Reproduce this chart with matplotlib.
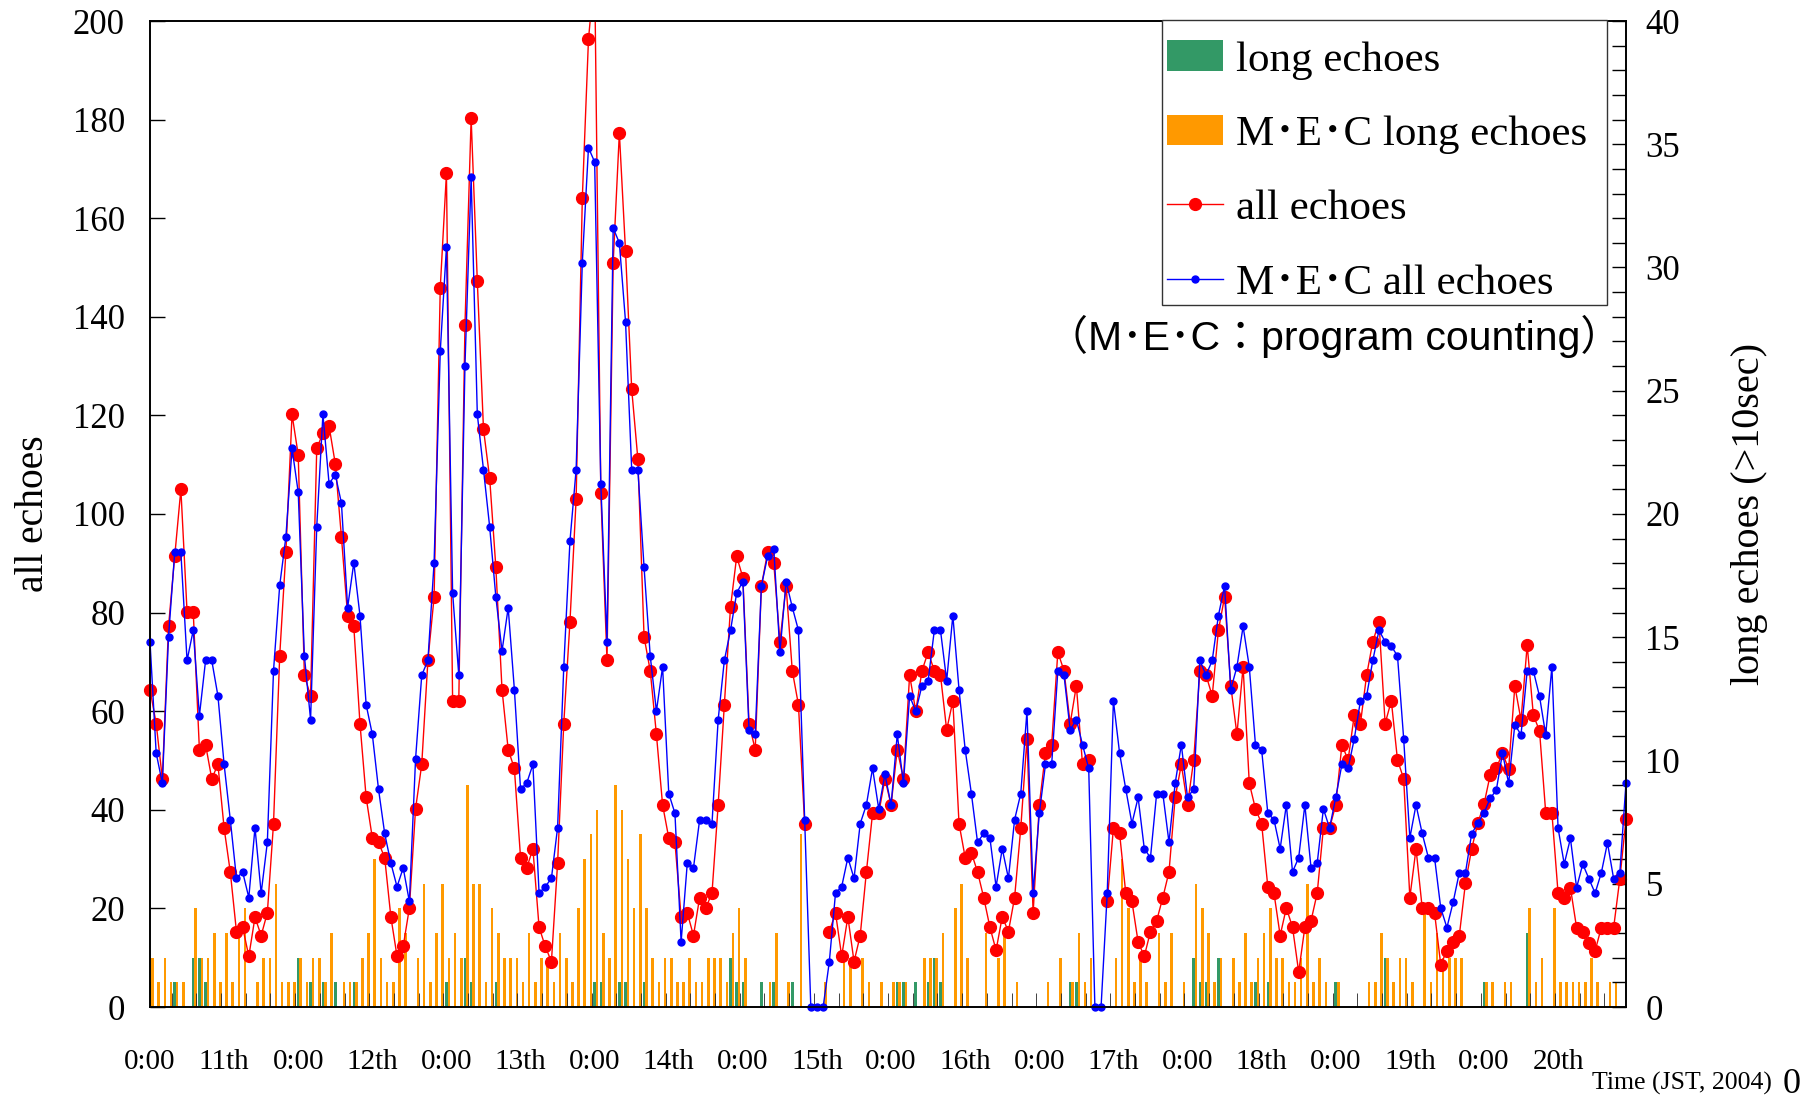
import numpy as np
import matplotlib
matplotlib.use("Agg")
import matplotlib.pyplot as plt
from matplotlib.patches import Patch, Rectangle
from matplotlib.lines import Line2D
from matplotlib.ticker import MultipleLocator

plt.rcParams['font.family'] = ['Liberation Serif', 'Noto Sans CJK JP']

nan = np.nan

# hourly counts, 10th 12:00 .. 20th 11:00 (JST 2004), one row = one day
all_echoes = [
    64.4, 57.5, 46.3, 77.2, 91.4, 105, 80.2, 80.2, 52.2, 53.2, 46.3, 49.2, 36.3, 27.4, 15.3, 16.2, 10.3, 18.2, 14.5, 19.1, 37.2, 71.2, 92.2, 120.2,
    112, 67.3, 63.1, 113.3, 116.4, 117.8, 110.2, 95.3, 79.4, 77.2, 57.5, 42.5, 34.3, 33.4, 30.3, 18.3, 10.3, 12.3, 20.1, 40.2, 49.2, 70.3, 83.1, 145.9,
    169.1, 62.1, 62.1, 138.3, 180.3, 147.2, 117.2, 107.3, 89.2, 64.4, 52.2, 48.4, 30.3, 28.2, 32.1, 16.2, 12.3, 9.2, 29.2, 57.5, 78.1, 103, 164, 196.3,
    210, 104.2, 70.3, 151, 177.3, 153.3, 125.3, 111.1, 75.1, 68.2, 55.3, 41, 34.3, 33.4, 18.3, 19.1, 14.5, 22.2, 20.1, 23.1, 41, 61.3, 81.1, 91.4,
    87.1, 57.5, 52.2, 85.4, 92.2, 90.1, 74.1, 85.4, 68.2, 61.3, 37.2, nan, nan, nan, 15.3, 19.1, 10.3, 18.3, 9.2, 14.5, 27.4, 39.3, 39.3, 46.3,
    41, 52.2, 46.3, 67.3, 60, 68.2, 72, 68.2, 67.3, 56.2, 62.1, 37.2, 30.3, 31.3, 27.4, 22.2, 16.2, 11.5, 18.3, 15.3, 22.2, 36.3, 54.4, 19.1,
    41, 51.5, 53.2, 72, 68.2, 57.5, 65.2, 49.2, 50.1, nan, nan, 21.4, 36.3, 35.2, 23.1, 21.4, 13.2, 10.3, 15.3, 17.5, 22.2, 27.4, 42.5, 49.2,
    41, 50.1, 68.2, 67.3, 63.1, 76.4, 83.2, 65.2, 55.3, 69, 45.4, 40.2, 37.2, 24.4, 23.1, 14.5, 20.1, 16.2, 7.1, 16.2, 17.5, 23.1, 36.3, 36.3,
    41, 53.2, 50.1, 59.2, 57.5, 67.3, 74.1, 78.1, 57.5, 62.1, 50.1, 46.3, 22.2, 32.1, 20.1, 20.1, 19.1, 8.6, 11.4, 13.2, 14.4, 25.1, 32, 37.3,
    41.1, 47, 48.4, 51.5, 48.3, 65.1, 58.2, 73.4, 59.2, 56, 39.4, 39.4, 23.1, 22.2, 24.2, 16.1, 15.3, 13, 11.4, 16.1, 16.1, 16.1, 26, 38.1,
]

mec_all_echoes = [
    74.1, 51.5, 45.4, 75.1, 92.2, 92.2, 70.3, 76.4, 59.1, 70.3, 70.3, 63.1, 49.2, 38, 26.1, 27.4, 22.2, 36.4, 23.1, 33.4, 68.2, 85.5, 95.3, 113.3,
    104.4, 71.2, 58.3, 97.4, 120.2, 106.1, 108, 102.2, 81, 90.1, 79.4, 61.3, 55.3, 44.2, 35.2, 29.2, 24.4, 28.2, 21.4, 50.3, 67.3, 70.3, 90.1, 133,
    154.1, 84, 67.3, 130.1, 168.3, 120.2, 109, 97.4, 83.2, 72.2, 81, 64.4, 44.2, 45.4, 49.2, 23.1, 24.4, 26.1, 36.4, 69, 94.5, 109, 151, 174.3,
    171.4, 106, 74.1, 158, 155, 139, 109, 109, 89.2, 71.2, 60, 69, 43.3, 39.3, 13.2, 29.2, 28.2, 38, 38, 37.2, 58.3, 70.3, 76.4, 84,
    86.3, 56.2, 55.3, 85.4, 91.4, 93, 72, 86.3, 81.1, 76.4, 38, 0, 0, 0, 9.2, 23.1, 24.4, 30.3, 26.1, 37.2, 41, 48.4, 40.2, 47.2,
    41, 55.3, 45.4, 63.1, 60, 65.2, 66.2, 76.4, 76.4, 66.2, 79.4, 64.4, 52.2, 43.3, 33.4, 35.2, 34.3, 24.4, 32.1, 26.1, 38, 43.3, 60, 23.1,
    39.3, 49.2, 49.2, 68.2, 67.3, 56.2, 58.3, 53.2, 48.4, 0, 0, 23.1, 62.1, 51.5, 44.2, 37.2, 42.5, 32.1, 30.3, 43.3, 43.3, 33.4, 45.4, 53.2,
    42.5, 44.2, 70.3, 67.3, 70.3, 79.4, 85.4, 64.4, 69, 77.2, 69, 53.2, 52.2, 39.3, 38, 32.1, 41, 27.4, 30.3, 41, 28.2, 29.2, 40.2, 36.3,
    42.5, 49.2, 48.4, 54.4, 62.1, 63.1, 70.3, 76.4, 74.1, 73.2, 71.2, 54.4, 34.3, 41, 35.2, 30.3, 30.3, 20.1, 16.1, 21.2, 27.2, 27.2, 35.1, 37.3,
    39.3, 42.3, 44, 51.5, 45.4, 57.3, 55.2, 68.2, 68.2, 63, 55.2, 69, 36.3, 29, 34.2, 24.2, 29, 26, 23.1, 27.2, 33.3, 26, 27.2, 45.5,
]

long_echoes = [
    1, 0, 0, 0, 1, 0, 0, 2, 2, 1, 0, 0, 0, 0, 0, 0, 0, 0, 0, 0, 0, 0, 0, 0,
    2, 0, 1, 0, 1, 0, 1, 0, 0, 1, 0, 0, 0, 0, 0, 0, 0, 0, 0, 0, 0, 0, 0, 0,
    1, 0, 0, 2, 1, 0, 0, 0, 1, 0, 0, 0, 0, 0, 0, 0, 0, 0, 0, 0, 0, 0, 0, 0,
    1, 1, 0, 0, 1, 1, 0, 0, 1, 0, 0, 0, 0, 0, 0, 0, 0, 0, 0, 0, 0, 0, 2, 1,
    1, 0, 0, 1, 0, 1, 0, 0, 1, 0, 0, 0, 0, 0, 0, 0, 0, 0, 0, 0, 0, 0, 0, 0,
    0, 1, 1, 0, 1, 0, 1, 2, 1, 0, 0, 0, 0, 0, 0, 0, 0, 0, 0, 0, 0, 0, 0, 0,
    0, 0, 0, 0, 0, 1, 1, 0, 0, 0, 0, 0, 0, 0, 0, 0, 0, 0, 0, 0, 0, 0, 0, 0,
    0, 2, 1, 1, 0, 2, 0, 0, 0, 0, 0, 1, 0, 1, 0, 0, 0, 0, 0, 0, 0, 0, 0, 0,
    1, 0, 0, 0, 0, 0, 0, 0, 2, 0, 0, 0, 0, 0, 0, 0, 0, 0, 0, 0, 0, 0, 0, 0,
    1, 0, 0, 0, 0, 0, 0, 3, 0, 0, 0, 0, 0, 0, 0, 0, 0, 0, 0, 0, 0, 0, 0, 0,
]

mec_long_echoes = [
    2, 1, 2, 1, 1, 1, 0, 4, 2, 2, 3, 1, 3, 1, 3, 4, 0, 1, 2, 2, 5, 1, 1, 1,
    2, 1, 2, 2, 1, 3, 0, 1, 1, 1, 2, 3, 6, 2, 1, 1, 4, 3, 0, 2, 5, 1, 3, 5,
    2, 3, 2, 9, 5, 5, 1, 4, 3, 2, 2, 2, 1, 3, 1, 2, 2, 1, 3, 2, 1, 4, 6, 7,
    8, 3, 2, 9, 8, 6, 4, 7, 4, 2, 1, 2, 2, 1, 1, 2, 1, 1, 2, 2, 2, 1, 3, 4,
    2, 0, 0, 0, 1, 3, 0, 1, 0, 7, 0, 0, 0, 1, 0, 0, 2, 2, 0, 2, 1, 0, 1, 0,
    1, 1, 1, 0, 0, 2, 2, 2, 3, 0, 4, 5, 2, 0, 0, 3, 0, 2, 3, 0, 1, 0, 0, 0,
    0, 1, 0, 2, 0, 1, 3, 1, 2, 0, 0, 0, 2, 6, 4, 1, 2, 1, 0, 3, 1, 3, 0, 1,
    0, 5, 4, 3, 1, 2, 0, 2, 1, 3, 1, 2, 3, 4, 2, 2, 1, 1, 2, 5, 1, 2, 1, 0,
    1, 0, 0, 0, 0, 1, 1, 3, 2, 1, 2, 2, 1, 0, 4, 1, 3, 2, 2, 2, 2, 0, 0, 0,
    1, 1, 0, 1, 1, 0, 0, 4, 1, 2, 0, 4, 1, 1, 1, 1, 1, 2, 1, 0, 1, 1, 0, 1,
]

tick_labels = ["0:00", "11th", "0:00", "12th", "0:00", "13th", "0:00", "14th", "0:00", "15th",
               "0:00", "16th", "0:00", "17th", "0:00", "18th", "0:00", "19th", "0:00", "20th"]

hours = np.arange(len(all_echoes))
all_echoes = np.array(all_echoes, dtype=float)
mec_all_echoes = np.array(mec_all_echoes, dtype=float)

RED = '#FF0000'
BLUE = '#0000FF'
GREEN = '#339966'
ORANGE = '#FF9900'

fig = plt.figure(figsize=(18.16, 11.03), dpi=100)
ax = fig.add_axes([150 / 1816, 96 / 1103, 1476 / 1816, 986 / 1103])

# bars -> right axis (long echoes)
ax.bar(hours, long_echoes, width=0.42, color=GREEN, linewidth=0)
ax.bar(hours + 0.4, mec_long_echoes, width=0.42, color=ORANGE, linewidth=0)
ax.set_xlim(0, 239)
ax.set_ylim(0, 40)

# lines -> left axis (all echoes)
ax2 = ax.twinx()
ax2.plot(hours, all_echoes, color=RED, lw=1.0)
red_pts = np.where(all_echoes <= 200, all_echoes, nan)
ax2.plot(hours, red_pts, 'o', color=RED, ms=8.5, mec=RED, clip_on=False)
ax2.plot(hours, mec_all_echoes, color=BLUE, lw=1.0, marker='o', ms=5, clip_on=False)
ax2.set_ylim(0, 200)

ax.yaxis.tick_right()
ax.yaxis.set_label_position('right')
ax2.yaxis.tick_left()
ax2.yaxis.set_label_position('left')

ax.yaxis.set_major_locator(MultipleLocator(5))
ax.yaxis.set_minor_locator(MultipleLocator(1))
ax.tick_params(axis='y', which='both', direction='in', length=10, width=1,
               left=False, right=True, labelleft=False, labelright=True,
               labelsize=25, pad=14)
ax2.yaxis.set_major_locator(MultipleLocator(20))
ax2.tick_params(axis='y', which='both', direction='in', length=11, width=1,
                left=True, right=False, labelleft=True, labelright=False,
                labelsize=25, pad=18)

ax.set_xticks(np.arange(0, 240, 12))
ax.set_xticklabels(tick_labels)
ax.set_xticks(np.arange(3.5, 239, 4), minor=True)
ax.tick_params(axis='x', which='major', length=0, labelsize=21, pad=30)
ax.tick_params(axis='x', which='minor', direction='in', length=10, color='#222222')

for a in (ax, ax2):
    for s in a.spines.values():
        s.set_linewidth(1.2)

ax2.set_ylabel('all echoes', fontsize=28.5)
ax2.yaxis.set_label_coords(-0.0665, 0.5)
ax.set_ylabel('long echoes (>10sec)', fontsize=29)
ax.yaxis.set_label_coords(1.0711, 0.5)

handles = [
    Patch(facecolor=GREEN, edgecolor='none'),
    Patch(facecolor=ORANGE, edgecolor='none'),
    Line2D([], [], color=RED, lw=1.0, marker='o', ms=8.5),
    Line2D([], [], color=BLUE, lw=1.0, marker='o', ms=5),
]
labels = ['long echoes', 'M\uff65E\uff65C long echoes', 'all echoes', 'M\uff65E\uff65C all echoes']

# legend box drawn by hand so its size matches the original frame
ax2.add_patch(Rectangle((0.6856, 0.712), 0.9871 - 0.6856, 1.001 - 0.712,
                        transform=ax2.transAxes, facecolor='white',
                        edgecolor='#333333', lw=1.0, clip_on=False, zorder=4))
leg = ax2.legend(handles, labels, loc='upper right', bbox_to_anchor=(0.987, 1.0),
                 fontsize=31, frameon=False, borderpad=0.45, labelspacing=0.82,
                 handlelength=1.3, handletextpad=0.3, borderaxespad=0)
leg.set_zorder(5)

ax2.text(0.997, 0.6805, '\uff08M\uff65E\uff65C\uff1aprogram counting\uff09',
         transform=ax2.transAxes, ha='right', va='center', fontsize=29.5,
         family=['Liberation Sans', 'Noto Sans CJK JP'])

fig.text(1682 / 1816, 1 - 1083 / 1103, 'Time (JST, 2004)', ha='center', va='center', fontsize=18.5)
fig.text(1783 / 1816, 2 / 1103, '0', ha='left', va='bottom', fontsize=26)

fig.savefig('out.png', dpi=100)
